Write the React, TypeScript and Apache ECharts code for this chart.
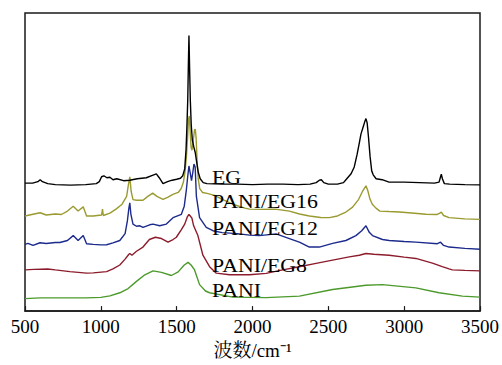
import React, { useEffect, useRef } from "react";
import * as echarts from "echarts";

// Raman spectra, stacked with offsets (intensity in arbitrary units)
const xTicks = [500, 1000, 1500, 2000, 2500, 3000, 3500];
const seriesNames = ["EG", "PANI/EG16", "PANI/EG12", "PANI/EG8", "PANI"];

const egData: [number, number][] = [
  [500, 130.5], [550, 130.5], [585, 132], [600, 134], [615, 132], [650, 130], [700, 129], [800, 128.5],
  [900, 129], [970, 130], [990, 132], [1005, 137], [1020, 138], [1040, 136], [1060, 136.5], [1080, 134],
  [1105, 135], [1150, 133], [1190, 133.5], [1240, 135], [1300, 136], [1340, 138.5], [1366, 140], [1385, 136],
  [1410, 130], [1440, 132], [1470, 133.5], [1500, 134.5], [1525, 135.5], [1540, 138], [1553, 145], [1562, 165],
  [1568, 190], [1573, 215], [1577, 250], [1581, 281], [1585, 250], [1590, 215], [1596, 190], [1603, 175],
  [1612, 168], [1622, 162], [1632, 152], [1642, 142], [1655, 135], [1675, 131], [1700, 130], [1800, 129.5],
  [1900, 129.5], [2000, 129], [2100, 129.5], [2200, 129.5], [2300, 129], [2380, 129.5], [2420, 131],
  [2441, 133.5], [2454, 134], [2470, 131], [2500, 129.5], [2560, 129.5], [2600, 131], [2616, 134], [2650, 140],
  [2671, 147], [2690, 160], [2705, 172], [2715, 180.5], [2730, 188], [2740, 193], [2748, 196.3], [2756, 192],
  [2765, 177], [2775, 158], [2786, 143], [2796, 139], [2815, 135], [2855, 134], [2900, 131.5], [3000, 131.5],
  [3100, 131], [3200, 130.5], [3230, 131.5], [3240, 137], [3245, 139.7], [3252, 135], [3265, 130], [3300, 129.5],
  [3400, 129], [3500, 128.7],
];

const eg16Data: [number, number][] = [
  [500, 97], [530, 98], [560, 99], [600, 100.3], [640, 98], [700, 99], [740, 98.5], [780, 102], [818, 107],
  [850, 102], [884, 106.3], [906, 97], [950, 97], [1005, 98], [1011, 104], [1016, 97.5], [1060, 100], [1100, 104],
  [1140, 109], [1170, 117], [1182, 129], [1191, 137], [1200, 122], [1212, 113.7], [1235, 113], [1278, 113],
  [1310, 117], [1342, 120.3], [1370, 117], [1410, 114], [1440, 116], [1475, 119], [1510, 121], [1530, 125],
  [1545, 132], [1555, 142], [1564, 157], [1572, 177], [1578, 195], [1583, 199], [1588, 187], [1595, 167],
  [1601, 164], [1610, 175], [1618, 185], [1623, 185.3], [1628, 177], [1635, 152], [1642, 135], [1652, 125],
  [1670, 121], [1700, 120], [1750, 118], [1800, 114], [1870, 109], [1950, 105], [1980, 104], [2050, 103.7],
  [2150, 104], [2243, 102], [2310, 99], [2375, 97], [2450, 95.5], [2507, 95.3], [2560, 97], [2616, 101],
  [2660, 106], [2700, 114], [2725, 122], [2748, 127.7], [2760, 123], [2775, 114], [2790, 109], [2814, 105],
  [2840, 102], [2900, 101.5], [2967, 101], [3050, 100], [3143, 98.7], [3215, 98.5], [3235, 100], [3245, 101],
  [3260, 97.5], [3296, 95.3], [3400, 94], [3500, 93.5],
];

const eg12Data: [number, number][] = [
  [500, 68], [520, 69], [553, 67], [599, 69.7], [640, 69], [700, 70], [730, 70], [780, 72], [818, 77], [850, 72],
  [884, 77], [906, 68.7], [950, 68], [1000, 67.5], [1038, 67.7], [1080, 69.5], [1125, 72], [1160, 79], [1175, 92],
  [1185, 105], [1191, 110.3], [1198, 99], [1212, 88.7], [1235, 86.5], [1257, 87], [1278, 85.3], [1322, 88],
  [1344, 88.7], [1388, 87], [1432, 88.7], [1476, 95.3], [1531, 98.7], [1550, 107], [1564, 123.7], [1574, 139],
  [1581, 148], [1588, 142], [1598, 133], [1607, 142], [1614, 150], [1622, 147], [1630, 117], [1651, 95.3],
  [1695, 85.3], [1739, 82], [1800, 80], [1900, 79], [1980, 77.5], [2046, 77], [2156, 78.7], [2243, 74],
  [2309, 70.3], [2375, 65.3], [2441, 65.3], [2528, 69], [2616, 72], [2682, 77], [2720, 82], [2748, 87],
  [2770, 80.3], [2791, 77], [2857, 73], [2901, 72], [3000, 71], [3077, 70.3], [3219, 68.7], [3240, 70.3],
  [3260, 67], [3296, 65.3], [3400, 64], [3500, 63],
];

const eg8Data: [number, number][] = [
  [500, 42], [560, 42.5], [650, 43], [700, 42], [796, 40.3], [906, 38.7], [950, 39], [1038, 40.3], [1080, 43],
  [1125, 47], [1160, 53], [1185, 58], [1191, 58.7], [1205, 57], [1235, 61], [1278, 65.3], [1320, 73], [1360, 75.3],
  [1400, 74], [1443, 70.3], [1476, 73], [1498, 75.3], [1531, 83], [1553, 88.7], [1570, 96], [1581, 98.7],
  [1600, 95], [1612, 87], [1640, 77], [1673, 57], [1717, 45.3], [1761, 38.7], [1849, 37], [1980, 37],
  [2090, 38.5], [2199, 42], [2300, 45], [2419, 48.7], [2528, 52], [2638, 55.3], [2704, 57], [2748, 58.7],
  [2800, 58], [2901, 57], [3000, 55], [3077, 53.7], [3186, 49], [3251, 45.3], [3296, 43], [3318, 42],
  [3400, 41.5], [3500, 41],
];

const paniData: [number, number][] = [
  [500, 12.7], [600, 13.5], [700, 13.5], [800, 13.5], [900, 13.5], [1000, 14], [1060, 15.5], [1125, 18.7],
  [1180, 23], [1235, 30.3], [1290, 37], [1344, 41], [1400, 39.5], [1465, 36.3], [1510, 40], [1550, 47],
  [1575, 49.7], [1595, 47], [1618, 42], [1651, 27], [1690, 20.5], [1717, 18.7], [1870, 14.3], [2090, 13.7],
  [2309, 15.3], [2528, 22], [2748, 26.3], [2857, 27], [3077, 23.7], [3230, 18.7], [3384, 15.3], [3500, 14.3],
];

const seriesData = [egData, eg16Data, eg12Data, eg8Data, paniData];
const seriesColors = ["#000000", "#9a9a30", "#1c2a8c", "#8c1c2c", "#4c9a2c"];
const labelY = [177, 201.7, 228.3, 265, 290];

const SERIF = "'Liberation Serif', 'DejaVu Serif', serif";
const CJK = "'Liberation Serif', 'Noto Serif CJK SC', 'Noto Sans CJK SC', serif";

export default function App() {
  const ref = useRef<HTMLDivElement>(null);
  useEffect(() => {
    if (!ref.current) return;
    const chart = echarts.init(ref.current, undefined, { renderer: "svg" });
    chart.setOption({
      animation: false,
      backgroundColor: "#ffffff",
      grid: {
        left: 25,
        right: 21,
        top: 13,
        bottom: 48,
        show: true,
        borderColor: "#1a1a1a",
        borderWidth: 1.5,
        backgroundColor: "transparent",
      },
      xAxis: {
        type: "value",
        min: xTicks[0],
        max: xTicks[xTicks.length - 1],
        interval: 500,
        name: "波数/cm⁻¹",
        nameLocation: "middle",
        nameGap: 26,
        nameTextStyle: { fontFamily: CJK, fontSize: 19, color: "#000" },
        axisLine: { show: true, lineStyle: { color: "#1a1a1a", width: 1.5 } },
        axisTick: { show: true, inside: true, length: 5, lineStyle: { color: "#1a1a1a", width: 1.2 } },
        axisLabel: {
          fontFamily: SERIF,
          fontSize: 19,
          color: "#000",
          margin: 6,
          formatter: (v: number) => String(v),
        },
        splitLine: { show: false },
      },
      yAxis: {
        type: "value",
        min: 0,
        max: 304,
        show: false,
      },
      series: seriesNames.map((name, i) => ({
        name,
        type: "line",
        data: seriesData[i],
        showSymbol: false,
        symbol: "none",
        lineStyle: { color: seriesColors[i], width: 1.4 },
        z: 10 - i,
      })),
      graphic: seriesNames.map((name, i) => ({
        type: "text",
        x: 212,
        y: labelY[i],
        scaleX: 1.12,
        z: 100,
        style: {
          text: name,
          fontFamily: SERIF,
          fontSize: 19.5,
          fill: "#000",
          verticalAlign: "middle",
          align: "left",
        },
      })),
    });
    return () => chart.dispose();
  }, []);
  return <div ref={ref} style={{ width: 502, height: 365, position: "absolute", left: 0, top: 0 }} />;
}
